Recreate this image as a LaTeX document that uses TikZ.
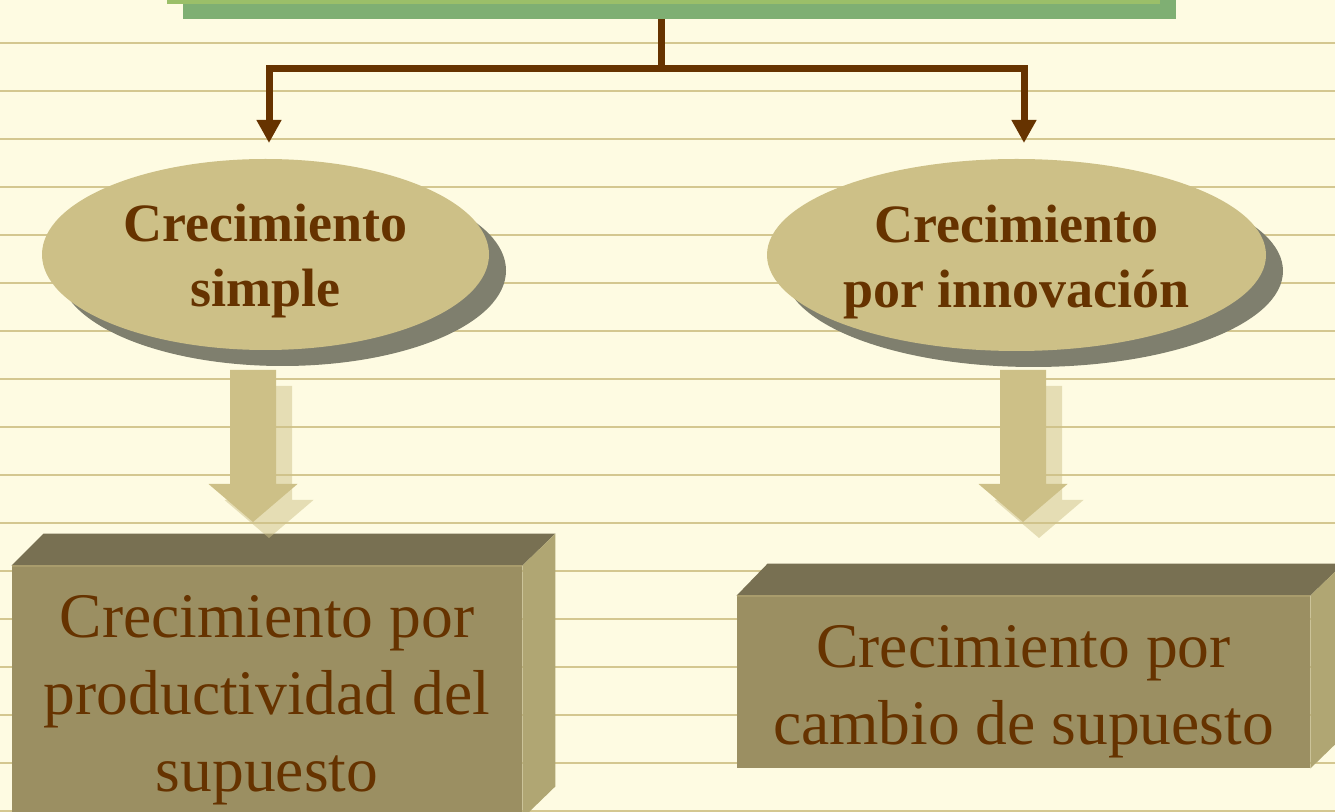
\documentclass[tikz,border=0pt]{standalone}
\usepackage{fontspec}
\setmainfont{Liberation Serif}
\usetikzlibrary{arrows.meta,shapes.geometric,shadows}
\definecolor{bgcream}{HTML}{FEFBE2}
\definecolor{ruleline}{HTML}{D4C790}
\definecolor{lightgreen}{HTML}{9BBF69}
\definecolor{darkgreen}{HTML}{7FAF73}
\definecolor{brownink}{HTML}{663300}
\definecolor{tanfill}{HTML}{CDC087}
\definecolor{shadowgray}{HTML}{7F7F6E}
\definecolor{faceFront}{HTML}{9B8F62}
\definecolor{faceTop}{HTML}{787052}
\definecolor{faceSide}{HTML}{B0A673}
\definecolor{faceEdge}{HTML}{A99C6C}
\tikzset{
  rule/.style={ruleline, line width=1.2pt},
  barbox/.style={rectangle, draw=none, inner sep=0pt, minimum width=496.5pt, minimum height=59.5pt},
  conn/.style={brownink, line width=3.5pt, -{Triangle[length=11.5pt,width=11.75pt]}},
  stem/.style={brownink, line width=3.5pt},
  ellnode/.style={ellipse, fill=tanfill, draw=none, inner sep=0pt,
    drop shadow={shadow xshift=8.5pt, shadow yshift=-8pt, fill=shadowgray, opacity=1}},
  elltext/.style={inner sep=0pt, align=center, text=brownink,
    font=\fontsize{27}{32.5}\selectfont\bfseries},
  frontface/.style={rectangle, fill=faceFront, draw=none, inner sep=0pt},
  topface/.style={fill=faceTop},
  sideface/.style={fill=faceSide},
  boxtext/.style={inner sep=0pt, align=center, text=brownink,
    font=\fontsize{31.75}{38.5}\selectfont},
  blockarrow/.pic={
    \fill[tanfill, opacity=0.5, shift={(16,16)}] (-23,0) -- (23,0) -- (23,114) -- (44.5,114) -- (0,152) -- (-44.5,114) -- (-23,114) -- cycle;
    \fill[tanfill] (-23,0) -- (23,0) -- (23,114) -- (44.5,114) -- (0,152) -- (-44.5,114) -- (-23,114) -- cycle;
  }
}
\begin{document}
\begin{tikzpicture}[x=0.5pt,y=-0.5pt]
\clip (0,0) rectangle (1335,812);
\fill[bgcream] (0,0) rectangle (1335,812);
\foreach \k in {0,...,16} {
  \draw[rule] (0,{43+48*\k}) -- (1335,{43+48*\k});
}
% top box (mostly above the page)
\node[barbox, fill=darkgreen] (topS) at (679.5,-40.5) {};
\node[barbox, fill=lightgreen] (topB) at (663.5,-55.5) {};
% connector
\coordinate (split) at (661,68.5);
\coordinate (aL) at (269,143);
\coordinate (aR) at (1024,143);
\draw[stem] (topS.south -| split) -- (split);
\draw[conn] (split) -| (aL);
\draw[conn] (split) -| (aR);
% ellipses
\node[ellnode, minimum width=223.5pt, minimum height=95.5pt] (eL) at (265.5,254.5) {};
\node[ellnode, minimum width=249.5pt, minimum height=96pt] (eR) at (1016.5,255) {};
\node[elltext] (eLt) at ([yshift=-3.5pt]eL.center) {Crecimiento\\simple};
\node[elltext] (eRt) at ([yshift=-3.5pt]eR.center) {Crecimiento\\por innovación};
% left box
\node[frontface, minimum width=255pt, minimum height=126pt] (fL) at (267,692) {};
\fill[topface] (fL.north west) -- ([shift={(32,-32)}]fL.north west) -- ([shift={(33,-32)}]fL.north east) -- (fL.north east) -- cycle;
\fill[sideface] (fL.north east) -- ([shift={(33,-32)}]fL.north east) -- ([shift={(33,-32)}]fL.south east) -- (fL.south east) -- cycle;
\draw[faceEdge, line width=1pt] (fL.north west) -- (fL.north east);
\node[boxtext] (tL) at ([yshift=-4pt]fL.center) {Crecimiento por\\productividad del\\supuesto};
% right box
\node[frontface, minimum width=286.5pt, minimum height=86pt] (fR) at (1023.5,682) {};
\fill[topface] (fR.north west) -- ([shift={(31,-32)}]fR.north west) -- ([shift={(33,-32)}]fR.north east) -- (fR.north east) -- cycle;
\fill[sideface] (fR.north east) -- ([shift={(33,-32)}]fR.north east) -- ([shift={(33,-32)}]fR.south east) -- (fR.south east) -- cycle;
\draw[faceEdge, line width=1pt] (fR.north west) -- (fR.north east);
\node[boxtext] (tR) at ([yshift=-5pt]fR.center) {Crecimiento por\\cambio de supuesto};
% block arrows
\coordinate (bL) at (253,370);
\coordinate (bR) at (1023,370);
\pic at (bL) {blockarrow};
\pic at (bR) {blockarrow};
\end{tikzpicture}
\end{document}
